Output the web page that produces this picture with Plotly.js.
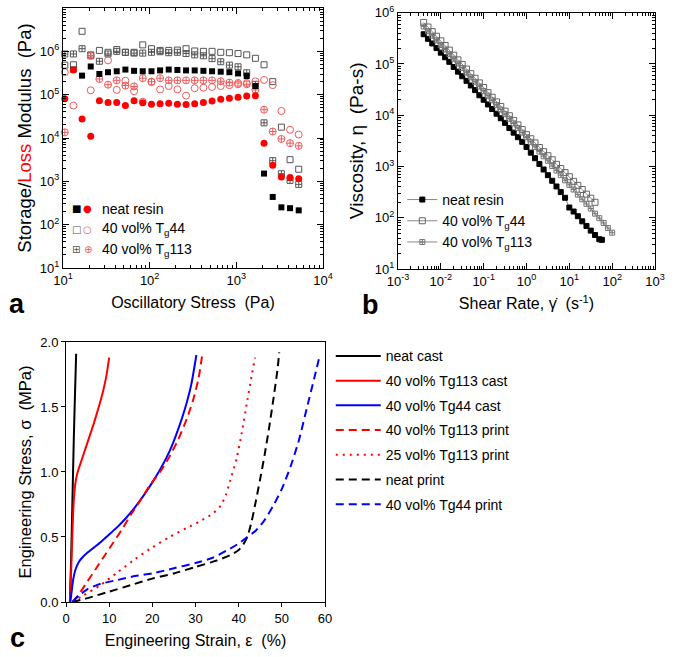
<!DOCTYPE html>
<html><head><meta charset="utf-8">
<script src="https://cdn.plot.ly/plotly-3.0.1.min.js"></script>
<style>body{margin:0;background:#fff}#chart{width:675px;height:657px}</style>
</head><body><div id="chart"></div>
<script>
// ---------- Panel a: oscillatory stress sweep ----------
const stressPa = [10.5, 13.2, 16.6, 20.9, 26.3, 33.1, 41.7, 52.5, 66.1, 83.2, 105, 132, 166, 209, 263, 331, 417, 525, 661, 832, 1047, 1318, 1660, 2089, 2630, 3311, 4169, 5248];
const neatStorage = [null, 3.8e5, 2.75e5, 4.47e5, 3.0e5, 3.3e5, 3.47e5, 3.8e5, 3.55e5, 3.47e5, 3.47e5, 3.63e5, 3.8e5, 3.72e5, 3.63e5, 3.63e5, 3.55e5, 3.47e5, 3.39e5, 3.3e5, 3.09e5, 2.69e5, 1.58e5, 1.51e3, 436, 251, 240, 214];
const neatLoss = [8.1e4, 3.7e5, 2.75e4, 1.1e4, 7.2e4, 6.6e4, 6.6e4, 5.6e4, 7.2e4, 6.5e4, 6.0e4, 6.2e4, 6.3e4, 6.0e4, 5.9e4, 6.2e4, 6.6e4, 7.1e4, 7.8e4, 8.3e4, 8.7e4, 9.3e4, 9.5e4, 7.6e3, 2.34e3, 1.26e3, 1.23e3, 1.15e3];
const tg44Storage = [4.8e5, 4.9e5, 2.9e6, 8.3e5, 1.05e6, 9.5e5, 1.1e6, 9.5e5, 9.5e5, 1.41e6, 1.15e6, 1.05e6, 1.05e6, 1.07e6, 1.15e6, 1.02e6, 1.0e6, 1.0e6, 9.5e5, 9.3e5, 8.9e5, 8.3e5, 6.9e5, 4.9e5, 2.0e5, 1.78e4, 3.16e3, 1.9e3];
const tg44Loss = [3.3e5, 5.6e4, null, 1.26e5, null, 6.2e5, 1.29e5, 2.1e5, 1.2e5, 6.9e4, 1.95e5, 1.32e5, 1.58e5, 1.32e5, 9.5e4, 1.41e5, 1.45e5, 1.51e5, 1.58e5, 1.66e5, 1.74e5, 1.86e5, 2.04e5, 2.19e5, 1.66e5, 4.2e4, 1.55e4, 1.2e4];
const tg113Storage = [8.7e5, 8.7e5, 1.15e6, 7.9e5, 5.9e5, 8.7e5, 1.0e6, 9.5e5, 9.1e5, 9.1e5, 9.5e5, 9.8e5, 9.3e5, 9.5e5, 8.9e5, 8.3e5, 7.9e5, 6.8e5, 5.75e5, 4.8e5, 4.4e5, 3.2e5, 1.74e5, 2.24e4, 3.0e3, 1.5e3, 1.05e3, 850];
const tg113Loss = [1.35e4, null, null, 7.9e5, 2.3e5, 1.7e5, 2.14e5, 1.62e5, 1.55e5, 2.4e5, 2.0e5, 2.4e5, 2.14e5, 2.14e5, 2.14e5, 2.14e5, 2.14e5, 2.14e5, 2.04e5, 1.9e5, 1.86e5, 1.74e5, 1.29e5, 4.5e4, 1.41e4, 9.5e3, 7.6e3, 6.6e3];
const legendALabels = ['neat resin', '40 vol% T<sub>g</sub>44', '40 vol% T<sub>g</sub>113'];

// ---------- Panel b: viscosity ----------
const rateNeat = [0.00398, 0.00501, 0.00631, 0.00794, 0.01, 0.0126, 0.0158, 0.02, 0.0251, 0.0316, 0.0398, 0.0501, 0.0631, 0.0794, 0.1, 0.126, 0.158, 0.2, 0.251, 0.316, 0.398, 0.501, 0.631, 0.794, 1, 1.26, 1.58, 2.0, 2.51, 3.16, 3.98, 5.01, 6.31, 7.94, 10, 12.6, 15.8, 20, 25.1, 31.6, 39.8, 50.1, 57.5];
const viscNeat = [3.8e5, 3.09e5, 2.51e5, 2.04e5, 1.66e5, 1.35e5, 1.10e5, 8.71e4, 7.08e4, 5.75e4, 4.68e4, 3.80e4, 3.09e4, 2.45e4, 2.00e4, 1.62e4, 1.32e4, 1.07e4, 8.71e3, 7.08e3, 5.62e3, 4.57e3, 3.72e3, 3.02e3, 2.40e3, 1.86e3, 1.45e3, 1.12e3, 871, 676, 525, 407, 316, 245, 158, 132, 107, 85, 69, 56, 46, 38, 37];
const rateTg44 = [0.00398, 0.00501, 0.00631, 0.00794, 0.01, 0.0126, 0.0158, 0.02, 0.0251, 0.0316, 0.0398, 0.0501, 0.0631, 0.0794, 0.1, 0.126, 0.158, 0.2, 0.251, 0.316, 0.398, 0.501, 0.631, 0.794, 1, 1.26, 1.58, 2.0, 2.51, 3.16, 3.98, 5.01, 6.31, 7.94, 10, 12.6, 15.8, 20, 25.1, 31.6, 39.8];
const viscTg44 = [6.46e5, 5.25e5, 4.27e5, 3.47e5, 2.82e5, 2.29e5, 1.86e5, 1.48e5, 1.20e5, 9.77e4, 7.94e4, 6.46e4, 5.25e4, 4.27e4, 3.47e4, 2.75e4, 2.24e4, 1.82e4, 1.48e4, 1.20e4, 9.77e3, 7.94e3, 6.46e3, 5.25e3, 4.17e3, 3.47e3, 2.88e3, 2.34e3, 1.95e3, 1.62e3, 1.35e3, 1.10e3, 912, 759, 631, 513, 427, 355, 288, 240, 200];
const rateTg113 = [0.00398, 0.00501, 0.00631, 0.00794, 0.01, 0.0126, 0.0158, 0.02, 0.0251, 0.0316, 0.0398, 0.0501, 0.0631, 0.0794, 0.1, 0.126, 0.158, 0.2, 0.251, 0.316, 0.398, 0.501, 0.631, 0.794, 1, 1.26, 1.58, 2.0, 2.51, 3.16, 3.98, 5.01, 6.31, 7.94, 10, 12.6, 15.8, 20, 25.1, 31.6, 39.8, 50.1, 63.1, 79.4, 100];
const viscTg113 = [5.37e5, 4.37e5, 3.55e5, 2.88e5, 2.34e5, 1.91e5, 1.55e5, 1.26e5, 1.02e5, 8.32e4, 6.76e4, 5.50e4, 4.47e4, 3.63e4, 2.95e4, 2.40e4, 1.95e4, 1.58e4, 1.29e4, 1.05e4, 8.51e3, 6.92e3, 5.62e3, 4.57e3, 3.72e3, 3.02e3, 2.40e3, 1.95e3, 1.58e3, 1.29e3, 1.02e3, 832, 676, 537, 437, 355, 282, 229, 186, 151, 120, 98, 79, 63, 51];

// ---------- Panel c: stress-strain ----------
const neatCastX = [0.9, 1.2, 1.5, 1.8, 2.1, 2.35];
const neatCastY = [0, 0.35, 0.8, 1.25, 1.62, 1.91];
const tg113CastX = [0.9, 1.2, 1.5, 1.8, 2.2, 2.7, 3.5, 4.5, 5.5, 6.5, 7.5, 8.5, 9.3, 10.0];
const tg113CastY = [0, 0.25, 0.55, 0.78, 0.92, 1.0, 1.08, 1.18, 1.28, 1.38, 1.49, 1.61, 1.73, 1.88];
const tg44CastX = [1.0, 1.3, 1.7, 2.2, 3, 4, 5, 6.5, 8, 10, 12, 14, 16, 18, 20, 22, 24, 26, 27.5, 29, 30.2];
const tg44CastY = [0, 0.08, 0.18, 0.25, 0.31, 0.35, 0.38, 0.42, 0.46, 0.52, 0.58, 0.65, 0.73, 0.82, 0.92, 1.03, 1.16, 1.33, 1.48, 1.67, 1.90];
const tg113PrintX = [1.5, 3, 5, 7, 9, 11, 13, 15, 17, 19.5, 22, 24, 26, 28, 29.5, 30.7, 31.6];
const tg113PrintY = [0, 0.06, 0.16, 0.26, 0.36, 0.46, 0.56, 0.67, 0.77, 0.9, 1.01, 1.12, 1.25, 1.41, 1.56, 1.72, 1.91];
const tg113Print25X = [1.5, 4, 8, 12, 16, 20, 24, 28, 31, 34, 35.8, 37, 38, 39.5, 40.7, 42, 43, 43.8];
const tg113Print25Y = [0, 0.05, 0.13, 0.23, 0.33, 0.42, 0.5, 0.57, 0.62, 0.68, 0.74, 0.82, 0.93, 1.1, 1.3, 1.55, 1.74, 1.88];
const neatPrintX = [1.5, 5, 10, 15, 20, 25, 30, 35, 38, 40, 41, 42, 43, 44, 45, 46, 47, 48, 49, 49.4];
const neatPrintY = [0, 0.03, 0.08, 0.13, 0.18, 0.22, 0.27, 0.32, 0.36, 0.4, 0.44, 0.5, 0.62, 0.78, 0.95, 1.13, 1.33, 1.55, 1.79, 1.92];
const tg44PrintX = [1.5, 3, 5, 8, 12, 16, 20, 25, 30, 34, 38, 40, 42, 44, 46, 48, 50, 52, 54, 56, 57.5, 58.8];
const tg44PrintY = [0, 0.05, 0.1, 0.14, 0.17, 0.2, 0.22, 0.26, 0.3, 0.34, 0.41, 0.45, 0.5, 0.55, 0.63, 0.74, 0.87, 1.04, 1.25, 1.52, 1.72, 1.9];

// tick labels
const aXTickVals = [10, 100, 1000, 10000];
const aXTickText = ['10<sup>1</sup>', '10<sup>2</sup>', '10<sup>3</sup>', '10<sup>4</sup>'];
const aYTickVals = [10, 100, 1e3, 1e4, 1e5, 1e6, 1e7];
const aYTickText = ['10<sup>1</sup>', '10<sup>2</sup>', '10<sup>3</sup>', '10<sup>4</sup>', '10<sup>5</sup>', '10<sup>6</sup>', '10<sup>7</sup>'];
const bXTickVals = [1e-3, 1e-2, 1e-1, 1, 10, 100, 1000];
const bXTickText = ['10<sup>-3</sup>', '10<sup>-2</sup>', '10<sup>-1</sup>', '10<sup>0</sup>', '10<sup>1</sup>', '10<sup>2</sup>', '10<sup>3</sup>'];
const bYTickVals = [10, 100, 1e3, 1e4, 1e5, 1e6];
const bYTickText = ['10<sup>1</sup>', '10<sup>2</sup>', '10<sup>3</sup>', '10<sup>4</sup>', '10<sup>5</sup>', '10<sup>6</sup>'];

function minors(k0, k1) { const v = []; for (let k = k0; k < k1; k++) for (let d = 2; d <= 9; d++) v.push(d * Math.pow(10, k)); return v; }

const FONT = 'Liberation Sans, Arial, sans-serif';
const GREY = '#555555';
const PINK = '#f05a5a';

function sc(x, y, sym, color, xa, ya, size, lw) {
  return {type: 'scatter', mode: 'markers', x: x, y: y, xaxis: xa, yaxis: ya, showlegend: false,
    marker: {symbol: sym, color: color, size: size, line: {color: color, width: lw}}, cliponaxis: false};
}

const traces = [
  sc(stressPa, tg44Storage, 'square-open', GREY, 'x', 'y', 6, 1),
  sc(stressPa, tg113Storage, 'square-cross-open', GREY, 'x', 'y', 6, 1),
  sc(stressPa, tg44Loss, 'circle-open', PINK, 'x', 'y', 7, 1),
  sc(stressPa, tg113Loss, 'circle-cross-open', PINK, 'x', 'y', 7, 1),
  sc(stressPa, neatStorage, 'square', '#000', 'x', 'y', 6, 0),
  sc(stressPa, neatLoss, 'circle', '#ff0000', 'x', 'y', 7, 0),
];

function vis(x, y, name, sym, color, size) {
  return {type: 'scatter', mode: 'lines+markers', x: x, y: y, xaxis: 'x2', yaxis: 'y2', name: name, legend: 'legend2',
    line: {color: '#888', width: 1}, marker: {symbol: sym, color: color, size: size, line: {color: color, width: 1}}};
}
traces.push(vis(rateNeat, viscNeat, 'neat resin', 'square', '#000', 5));
traces.push(vis(rateTg44, viscTg44, '40 vol% T<sub>g</sub>44', 'square-open', '#666', 6));
traces.push(vis(rateTg113, viscTg113, '40 vol% T<sub>g</sub>113', 'square-cross-open', '#777', 5));

function ss(x, y, name, color, dash, g) {
  return {type: 'scatter', mode: 'lines', x: x, y: y, xaxis: 'x3', yaxis: 'y3', name: name, legend: 'legend3', legendgroup: g,
    line: {color: color, width: 2, dash: dash, shape: 'spline', smoothing: 0.6}};
}
traces.push(ss(neatCastX, neatCastY, 'neat cast', '#000', 'solid', 'g1'));
traces.push(ss(tg113CastX, tg113CastY, '40 vol% Tg113 cast', '#ff0000', 'solid', 'g2'));
traces.push(ss(tg44CastX, tg44CastY, '40 vol% Tg44 cast', '#0000ff', 'solid', 'g3'));
traces.push(ss(tg113PrintX, tg113PrintY, '40 vol% Tg113 print', '#ff0000', '8px,5px', 'g4'));
traces.push(ss(tg113Print25X, tg113Print25Y, '25 vol% Tg113 print', '#ff0000', '2px,5px', 'g5'));
traces.push(ss(neatPrintX, neatPrintY, 'neat print', '#000', '8px,5px', 'g6'));
traces.push(ss(tg44PrintX, tg44PrintY, '40 vol% Tg44 print', '#0000ff', '8px,5px', 'g7'));

function logAxis(domain, range, tv, tt, minorVals, anchor, title, tfs, standoff) {
  return {type: 'log', domain: domain, range: range, anchor: anchor, tickmode: 'array', tickvals: tv, ticktext: tt,
    ticks: 'inside', ticklen: 6, tickwidth: 1, tickcolor: '#000', mirror: 'allticks', showline: true, linecolor: '#000', linewidth: 1,
    showgrid: false, zeroline: false, tickfont: {family: FONT, size: 13, color: '#000'},
    minor: {tickmode: 'array', tickvals: minorVals, ticks: 'inside', ticklen: 3, tickwidth: 1, tickcolor: '#000', showgrid: false},
    title: {text: title, font: {family: FONT, size: tfs, color: '#000'}, standoff: standoff}, automargin: false};
}

const layout = {
  width: 675, height: 657, margin: {l: 0, r: 0, t: 0, b: 0}, paper_bgcolor: '#fff', plot_bgcolor: '#fff',
  showlegend: true, font: {family: FONT, color: '#000'},
  xaxis: logAxis([0.0933, 0.4785], [1, 4], aXTickVals, aXTickText, minors(1, 4), 'y', 'Oscillatory Stress  (Pa)', 16, 10),
  yaxis: logAxis([0.5921, 0.9878], [1, 7], aYTickVals, aYTickText, minors(1, 7), 'x', 'Storage/<span style="color:#ff0000">Loss</span> Modulus  (Pa)', 18.5, 3),
  xaxis2: logAxis([0.5896, 0.9704], [-3, 3], bXTickVals, bXTickText, minors(-3, 3), 'y2', 'Shear Rate, γ̇  (s<sup>-1</sup>)', 16, 10),
  yaxis2: logAxis([0.5906, 0.9807], [1, 6], bYTickVals, bYTickText, minors(1, 6), 'x2', 'Viscosity, η  (Pa-s)', 19, 6),
  xaxis3: {domain: [0.0978, 0.4815], range: [0, 60], anchor: 'y3', dtick: 10, ticks: 'outside', ticklen: 4, tickcolor: '#000',
    showline: true, mirror: true, linecolor: '#000', linewidth: 1, showgrid: false, zeroline: false,
    tickfont: {family: FONT, size: 13, color: '#000'},
    title: {text: 'Engineering Strain, ε  (%)', font: {family: FONT, size: 16, color: '#000'}, standoff: 10}},
  yaxis3: {domain: [0.0837, 0.4795], range: [0, 2], anchor: 'x3', dtick: 0.5, tickformat: '.1f', ticks: 'outside', ticklen: 4, tickcolor: '#000',
    showline: true, mirror: true, linecolor: '#000', linewidth: 1, showgrid: false, zeroline: false,
    tickfont: {family: FONT, size: 13, color: '#000'},
    title: {text: 'Engineering Stress, σ  (MPa)', font: {family: FONT, size: 16.5, color: '#000'}, standoff: 4}},
  legend2: {x: 0.596, y: 0.72, xanchor: 'left', yanchor: 'top', bgcolor: 'rgba(0,0,0,0)', font: {family: FONT, size: 14, color: '#000'}, tracegroupgap: 0},
  legend3: {x: 0.49, y: 0.482, xanchor: 'left', yanchor: 'top', bgcolor: 'rgba(0,0,0,0)', font: {family: FONT, size: 14, color: '#000'}, tracegroupgap: 3.5, itemwidth: 45},
  annotations: []
};

// panel a legend (two symbols per entry)
const legRowsY = [0.6819, 0.6514, 0.6195];
const sqGlyphs = [['■', '#000'], ['□', GREY], ['⊞', GREY]];
const ciGlyphs = [['●', '#ff0000'], ['○', PINK], ['⊕', PINK]];
for (let i = 0; i < 3; i++) {
  layout.annotations.push({xref: 'paper', yref: 'paper', x: 76 / 675, y: legRowsY[i], text: sqGlyphs[i][0], showarrow: false, xanchor: 'center', yanchor: 'middle', font: {family: 'DejaVu Sans', size: 10, color: sqGlyphs[i][1]}});
  layout.annotations.push({xref: 'paper', yref: 'paper', x: 88 / 675, y: legRowsY[i], text: ciGlyphs[i][0], showarrow: false, xanchor: 'center', yanchor: 'middle', font: {family: 'DejaVu Sans', size: 10, color: ciGlyphs[i][1]}});
  layout.annotations.push({xref: 'paper', yref: 'paper', x: 100 / 675, y: legRowsY[i], text: legendALabels[i], showarrow: false, xanchor: 'left', yanchor: 'middle', font: {family: FONT, size: 14, color: '#000'}});
}
// panel labels
[['a', 17, 304], ['b', 370, 305], ['c', 17, 638]].forEach(p => {
  layout.annotations.push({xref: 'paper', yref: 'paper', x: p[1] / 675, y: (657 - p[2]) / 657, text: '<b>' + p[0] + '</b>', showarrow: false, xanchor: 'center', yanchor: 'middle', font: {family: FONT, size: 27, color: '#000'}});
});

Plotly.newPlot('chart', traces, layout, {staticPlot: true, displayModeBar: false});
</script></body></html>
